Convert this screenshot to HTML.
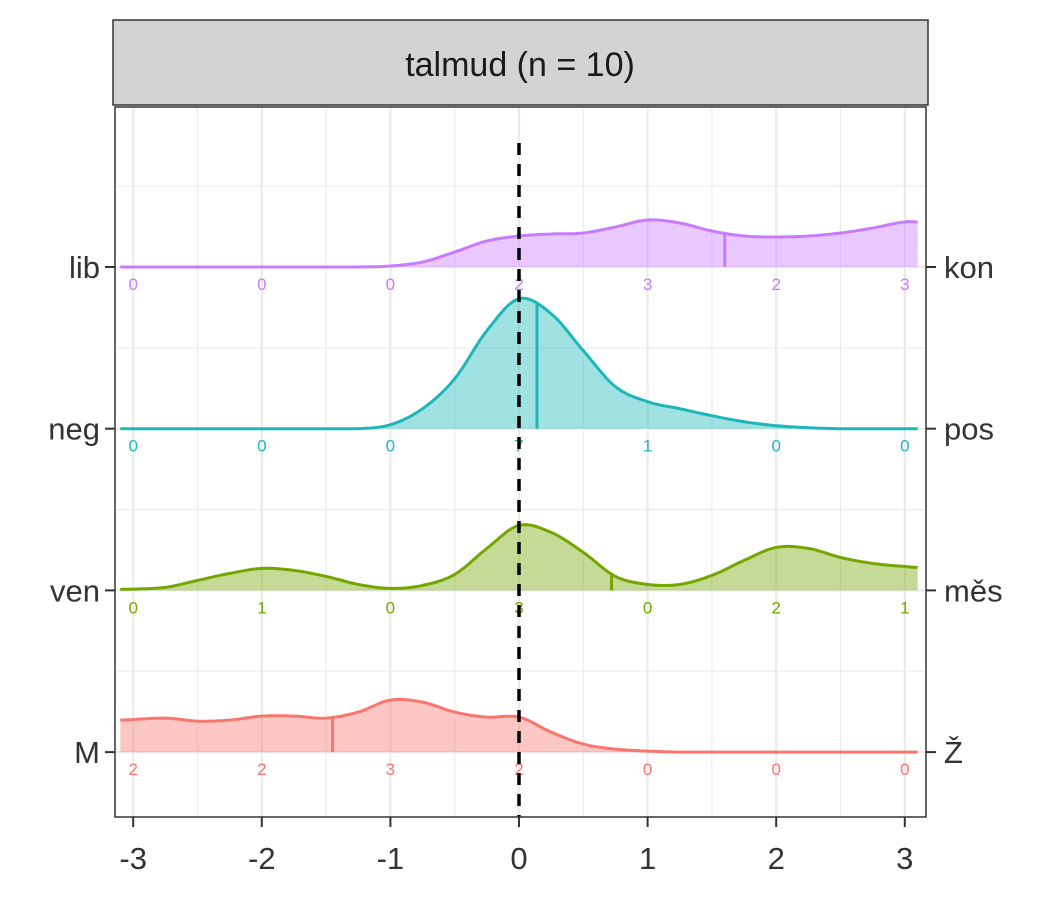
<!DOCTYPE html>
<html><head><meta charset="utf-8"><style>
html,body{margin:0;padding:0;background:#fff;}
svg text{font-family:"Liberation Sans",Arial,sans-serif;}
</style></head><body>
<svg id="chart" width="1050" height="900" viewBox="0 0 1050 900" xmlns="http://www.w3.org/2000/svg">
<rect x="0" y="0" width="1050" height="900" fill="#fff"/>
<rect x="113" y="20" width="815" height="85" fill="#d3d3d3" stroke="#333" stroke-width="1.5"/>
<text x="520" y="76" font-size="34" text-anchor="middle" fill="#1a1a1a">talmud (n = 10)</text>
<g id="grid"></g>
<g id="ridges"></g>
<line x1="519" y1="143" x2="519" y2="817" stroke="#000" stroke-width="3.5" stroke-dasharray="12,9"/>
<rect x="115" y="107" width="811" height="710" fill="none" stroke="#333" stroke-width="1.5"/>
<g id="axes"></g>
</svg>
<script>
const xTicks=[-3,-2,-1,0,1,2,3];
const countX=[-3,-2,-1,0,1,2,3];
const rowsLeft=["lib","neg","ven","M"];
const rowsRight=["kon","pos","měs","Ž"];
const rowColors=["#C77CFF","#1DB7BA","#74A600","#F8766D"];
const gridX=[-3.1,-2.75,-2.5,-2.25,-2,-1.75,-1.5,-1.25,-1,-0.75,-0.5,-0.25,0,0.25,0.5,0.75,1,1.25,1.5,1.75,2,2.25,2.5,2.75,3,3.1];
const densLib=[0,0,0,0,0,0,0,0,0.01,0.05,0.15,0.26,0.31,0.33,0.34,0.4,0.47,0.44,0.36,0.31,0.3,0.31,0.34,0.39,0.45,0.45];
const densNeg=[0,0,0,0,0,0,0,0,0.04,0.2,0.5,0.98,1.3,1.15,0.78,0.42,0.27,0.2,0.13,0.07,0.03,0.01,0,0,0,0];
const densVen=[0.01,0.03,0.1,0.17,0.22,0.2,0.14,0.06,0.02,0.05,0.16,0.42,0.65,0.58,0.38,0.14,0.06,0.06,0.15,0.3,0.43,0.42,0.33,0.27,0.24,0.23];
const densM=[0.32,0.34,0.31,0.32,0.36,0.36,0.34,0.4,0.52,0.5,0.4,0.35,0.35,0.2,0.08,0.03,0.01,0,0,0,0,0,0,0,0,0];
const allDens=[densLib,densNeg,densVen,densM];
const means=[1.6,0.14,0.72,-1.45];
const countsLib=[0,0,0,2,3,2,3];
const countsNeg=[0,0,0,7,1,0,0];
const countsVen=[0,1,0,3,0,2,1];
const countsM=[2,2,3,2,0,0,0];
const allCounts=[countsLib,countsNeg,countsVen,countsM];

const NS="http://www.w3.org/2000/svg";
const X=v=>519+v*128.6;
const baseY=i=>267+i*161.7;
const H=d=>d*100;
function mk(tag,attrs,parent){const e=document.createElementNS(NS,tag);for(const k in attrs)e.setAttribute(k,attrs[k]);parent.appendChild(e);return e;}
const grid=document.getElementById('grid'),ridges=document.getElementById('ridges'),axes=document.getElementById('axes');
for(let v=-3;v<=3.01;v+=0.5){const major=Math.abs(v-Math.round(v))<0.01;
 const l=mk('line',{x1:X(v),x2:X(v),y1:107,y2:817,stroke:'#ebebeb','stroke-width':major?2.2:1.1},grid);
 }
for(let i=-1;i<4;i++){const y=baseY(i)+80.85;if(y>107&&y<817){const l=mk('line',{x1:115,x2:926,y1:y,y2:y,stroke:'#ebebeb','stroke-width':1.1},grid);
 }}
for(let i=0;i<4;i++){const y=baseY(i);const l=mk('line',{x1:115,x2:926,y1:y,y2:y,stroke:'#ebebeb','stroke-width':2.2},grid);
 }
function interp(d,v){for(let k=0;k<gridX.length-1;k++){if(v>=gridX[k]-1e-9&&v<=gridX[k+1]+1e-9){const t=Math.min(1,Math.max(0,(v-gridX[k])/(gridX[k+1]-gridX[k])));
 const p0=d[Math.max(k-1,0)],p1=d[k],p2=d[k+1],p3=d[Math.min(k+2,d.length-1)];
 return 0.5*((2*p1)+(-p0+p2)*t+(2*p0-5*p1+4*p2-p3)*t*t+(-p0+3*p1-3*p2+p3)*t*t*t);}}return 0;}
for(let i=3;i>=0;i--){
 const d=allDens[i],by=baseY(i),c=rowColors[i];
 const x0=gridX[0],x1=gridX[gridX.length-1];
 let pts=[];const N=310;for(let k=0;k<=N;k++){const v=x0+(x1-x0)*k/N;pts.push([X(v),by-H(Math.max(0,interp(d,v)))]);}
 const line=pts.map((p,k)=>(k?'L':'M')+p[0].toFixed(1)+','+p[1].toFixed(1)).join('');
 const area=line+'L'+pts[pts.length-1][0].toFixed(1)+','+by+'L'+pts[0][0].toFixed(1)+','+by+'Z';
 const a=mk('path',{d:area,fill:c,'fill-opacity':0.42},ridges);
 const l=mk('path',{d:line,fill:'none',stroke:c,'stroke-width':3},ridges);
 const mh=H(interp(d,means[i]));
 const m=mk('line',{x1:X(means[i]),x2:X(means[i]),y1:by,y2:by-mh,stroke:c,'stroke-width':3},ridges);
 allCounts[i].forEach((n,k)=>{const t=mk('text',{x:X(countX[k]),y:by+23,'font-size':17,'text-anchor':'middle',fill:c},ridges);t.textContent=n;
  });
}
for(let i=0;i<4;i++){const y=baseY(i);
 const t1=mk('line',{x1:105,x2:115,y1:y,y2:y,stroke:'#333','stroke-width':2},axes);
 const t2=mk('line',{x1:926,x2:936,y1:y,y2:y,stroke:'#333','stroke-width':2},axes);
 const a=mk('text',{x:100,y:y+11,'font-size':31,'text-anchor':'end',fill:'#333'},axes);a.textContent=rowsLeft[i];
 const b=mk('text',{x:944,y:y+11,'font-size':31,'text-anchor':'start',fill:'#333'},axes);b.textContent=rowsRight[i];}
xTicks.forEach(v=>{const t=mk('line',{x1:X(v),x2:X(v),y1:817,y2:827,stroke:'#333','stroke-width':2},axes);
 const l=mk('text',{x:X(v),y:869,'font-size':31,'text-anchor':'middle',fill:'#333'},axes);l.textContent=v;});
</script>
</body></html>
